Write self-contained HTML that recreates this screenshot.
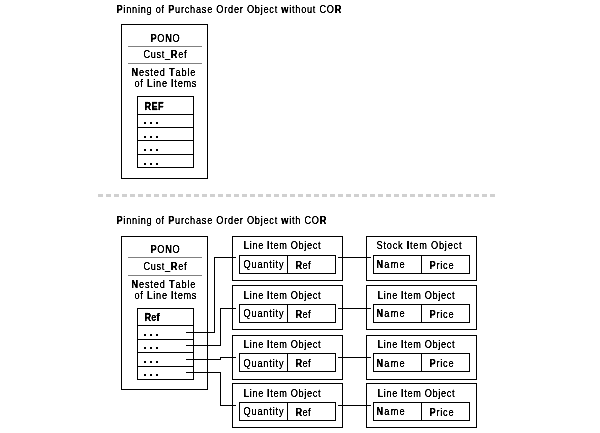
<!DOCTYPE html>
<html><head><meta charset="utf-8"><style>
html,body{margin:0;padding:0;background:#fff;width:600px;height:433px;overflow:hidden}
svg{display:block;will-change:transform}
text{font-family:"Liberation Sans",sans-serif;fill:#000;stroke:#000;stroke-width:0.22px}
</style></head><body>
<svg width="600" height="433" viewBox="0 0 600 433" shape-rendering="crispEdges">
<rect x="98" y="194" width="5" height="3" fill="#d0d0d0"/><rect x="106" y="194" width="5" height="3" fill="#d0d0d0"/><rect x="114" y="194" width="5" height="3" fill="#d0d0d0"/><rect x="122" y="194" width="5" height="3" fill="#d0d0d0"/><rect x="130" y="194" width="5" height="3" fill="#d0d0d0"/><rect x="138" y="194" width="5" height="3" fill="#d0d0d0"/><rect x="146" y="194" width="5" height="3" fill="#d0d0d0"/><rect x="154" y="194" width="5" height="3" fill="#d0d0d0"/><rect x="162" y="194" width="5" height="3" fill="#d0d0d0"/><rect x="170" y="194" width="5" height="3" fill="#d0d0d0"/><rect x="178" y="194" width="5" height="3" fill="#d0d0d0"/><rect x="186" y="194" width="5" height="3" fill="#d0d0d0"/><rect x="194" y="194" width="5" height="3" fill="#d0d0d0"/><rect x="202" y="194" width="5" height="3" fill="#d0d0d0"/><rect x="210" y="194" width="5" height="3" fill="#d0d0d0"/><rect x="218" y="194" width="5" height="3" fill="#d0d0d0"/><rect x="226" y="194" width="5" height="3" fill="#d0d0d0"/><rect x="234" y="194" width="5" height="3" fill="#d0d0d0"/><rect x="242" y="194" width="5" height="3" fill="#d0d0d0"/><rect x="250" y="194" width="5" height="3" fill="#d0d0d0"/><rect x="258" y="194" width="5" height="3" fill="#d0d0d0"/><rect x="266" y="194" width="5" height="3" fill="#d0d0d0"/><rect x="274" y="194" width="5" height="3" fill="#d0d0d0"/><rect x="282" y="194" width="5" height="3" fill="#d0d0d0"/><rect x="290" y="194" width="5" height="3" fill="#d0d0d0"/><rect x="298" y="194" width="5" height="3" fill="#d0d0d0"/><rect x="306" y="194" width="5" height="3" fill="#d0d0d0"/><rect x="314" y="194" width="5" height="3" fill="#d0d0d0"/><rect x="322" y="194" width="5" height="3" fill="#d0d0d0"/><rect x="330" y="194" width="5" height="3" fill="#d0d0d0"/><rect x="338" y="194" width="5" height="3" fill="#d0d0d0"/><rect x="346" y="194" width="5" height="3" fill="#d0d0d0"/><rect x="354" y="194" width="5" height="3" fill="#d0d0d0"/><rect x="362" y="194" width="5" height="3" fill="#d0d0d0"/><rect x="370" y="194" width="5" height="3" fill="#d0d0d0"/><rect x="378" y="194" width="5" height="3" fill="#d0d0d0"/><rect x="386" y="194" width="5" height="3" fill="#d0d0d0"/><rect x="394" y="194" width="5" height="3" fill="#d0d0d0"/><rect x="402" y="194" width="5" height="3" fill="#d0d0d0"/><rect x="410" y="194" width="5" height="3" fill="#d0d0d0"/><rect x="418" y="194" width="5" height="3" fill="#d0d0d0"/><rect x="426" y="194" width="5" height="3" fill="#d0d0d0"/><rect x="434" y="194" width="5" height="3" fill="#d0d0d0"/><rect x="442" y="194" width="5" height="3" fill="#d0d0d0"/><rect x="450" y="194" width="5" height="3" fill="#d0d0d0"/><rect x="458" y="194" width="5" height="3" fill="#d0d0d0"/><rect x="466" y="194" width="5" height="3" fill="#d0d0d0"/><rect x="474" y="194" width="5" height="3" fill="#d0d0d0"/><rect x="482" y="194" width="5" height="3" fill="#d0d0d0"/><rect x="490" y="194" width="5" height="3" fill="#d0d0d0"/><rect x="121" y="24" width="87" height="1" fill="#000"/><rect x="121" y="178" width="87" height="1" fill="#000"/><rect x="121" y="24" width="1" height="155" fill="#000"/><rect x="207" y="24" width="1" height="155" fill="#000"/><rect x="128" y="46" width="74" height="1" fill="#808080"/><rect x="128" y="63" width="74" height="1" fill="#808080"/><rect x="137" y="96" width="57" height="1" fill="#000"/><rect x="137" y="167" width="57" height="1" fill="#000"/><rect x="137" y="96" width="1" height="72" fill="#000"/><rect x="193" y="96" width="1" height="72" fill="#000"/><rect x="137" y="114" width="57" height="1" fill="#000"/><rect x="137" y="127" width="57" height="1" fill="#000"/><rect x="137" y="140" width="57" height="1" fill="#000"/><rect x="137" y="154" width="57" height="1" fill="#000"/><rect x="144" y="122" width="2" height="2" fill="#000"/><rect x="150" y="122" width="2" height="2" fill="#000"/><rect x="156" y="122" width="2" height="2" fill="#000"/><rect x="144" y="136" width="2" height="2" fill="#000"/><rect x="150" y="136" width="2" height="2" fill="#000"/><rect x="156" y="136" width="2" height="2" fill="#000"/><rect x="144" y="149" width="2" height="2" fill="#000"/><rect x="150" y="149" width="2" height="2" fill="#000"/><rect x="156" y="149" width="2" height="2" fill="#000"/><rect x="144" y="163" width="2" height="2" fill="#000"/><rect x="150" y="163" width="2" height="2" fill="#000"/><rect x="156" y="163" width="2" height="2" fill="#000"/><rect x="121" y="236" width="87" height="1" fill="#000"/><rect x="121" y="389" width="87" height="1" fill="#000"/><rect x="121" y="236" width="1" height="154" fill="#000"/><rect x="207" y="236" width="1" height="154" fill="#000"/><rect x="128" y="257" width="74" height="1" fill="#808080"/><rect x="128" y="275" width="74" height="1" fill="#808080"/><rect x="137" y="308" width="57" height="1" fill="#000"/><rect x="137" y="379" width="57" height="1" fill="#000"/><rect x="137" y="308" width="1" height="72" fill="#000"/><rect x="193" y="308" width="1" height="72" fill="#000"/><rect x="137" y="325" width="57" height="1" fill="#000"/><rect x="137" y="339" width="57" height="1" fill="#000"/><rect x="137" y="352" width="57" height="1" fill="#000"/><rect x="137" y="366" width="57" height="1" fill="#000"/><rect x="144" y="334" width="2" height="2" fill="#000"/><rect x="150" y="334" width="2" height="2" fill="#000"/><rect x="156" y="334" width="2" height="2" fill="#000"/><rect x="144" y="347" width="2" height="2" fill="#000"/><rect x="150" y="347" width="2" height="2" fill="#000"/><rect x="156" y="347" width="2" height="2" fill="#000"/><rect x="144" y="361" width="2" height="2" fill="#000"/><rect x="150" y="361" width="2" height="2" fill="#000"/><rect x="156" y="361" width="2" height="2" fill="#000"/><rect x="144" y="374" width="2" height="2" fill="#000"/><rect x="150" y="374" width="2" height="2" fill="#000"/><rect x="156" y="374" width="2" height="2" fill="#000"/><rect x="232" y="236" width="111" height="1" fill="#000"/><rect x="232" y="280" width="111" height="1" fill="#000"/><rect x="232" y="236" width="1" height="45" fill="#000"/><rect x="342" y="236" width="1" height="45" fill="#000"/><rect x="239" y="255" width="97" height="1" fill="#000"/><rect x="239" y="273" width="97" height="1" fill="#000"/><rect x="239" y="255" width="1" height="19" fill="#000"/><rect x="335" y="255" width="1" height="19" fill="#000"/><rect x="287" y="255" width="1" height="19" fill="#000"/><rect x="366" y="236" width="111" height="1" fill="#000"/><rect x="366" y="280" width="111" height="1" fill="#000"/><rect x="366" y="236" width="1" height="45" fill="#000"/><rect x="476" y="236" width="1" height="45" fill="#000"/><rect x="373" y="255" width="97" height="1" fill="#000"/><rect x="373" y="273" width="97" height="1" fill="#000"/><rect x="373" y="255" width="1" height="19" fill="#000"/><rect x="469" y="255" width="1" height="19" fill="#000"/><rect x="421" y="255" width="1" height="19" fill="#000"/><rect x="338" y="257" width="33" height="1" fill="#000"/><rect x="214" y="257" width="22" height="1" fill="#000"/><rect x="232" y="285" width="111" height="1" fill="#000"/><rect x="232" y="329" width="111" height="1" fill="#000"/><rect x="232" y="285" width="1" height="45" fill="#000"/><rect x="342" y="285" width="1" height="45" fill="#000"/><rect x="239" y="304" width="97" height="1" fill="#000"/><rect x="239" y="322" width="97" height="1" fill="#000"/><rect x="239" y="304" width="1" height="19" fill="#000"/><rect x="335" y="304" width="1" height="19" fill="#000"/><rect x="287" y="304" width="1" height="19" fill="#000"/><rect x="366" y="285" width="111" height="1" fill="#000"/><rect x="366" y="329" width="111" height="1" fill="#000"/><rect x="366" y="285" width="1" height="45" fill="#000"/><rect x="476" y="285" width="1" height="45" fill="#000"/><rect x="373" y="304" width="97" height="1" fill="#000"/><rect x="373" y="322" width="97" height="1" fill="#000"/><rect x="373" y="304" width="1" height="19" fill="#000"/><rect x="469" y="304" width="1" height="19" fill="#000"/><rect x="421" y="304" width="1" height="19" fill="#000"/><rect x="338" y="308" width="33" height="1" fill="#000"/><rect x="220" y="308" width="16" height="1" fill="#000"/><rect x="232" y="335" width="111" height="1" fill="#000"/><rect x="232" y="379" width="111" height="1" fill="#000"/><rect x="232" y="335" width="1" height="45" fill="#000"/><rect x="342" y="335" width="1" height="45" fill="#000"/><rect x="239" y="353" width="97" height="1" fill="#000"/><rect x="239" y="371" width="97" height="1" fill="#000"/><rect x="239" y="353" width="1" height="19" fill="#000"/><rect x="335" y="353" width="1" height="19" fill="#000"/><rect x="287" y="353" width="1" height="19" fill="#000"/><rect x="366" y="335" width="111" height="1" fill="#000"/><rect x="366" y="379" width="111" height="1" fill="#000"/><rect x="366" y="335" width="1" height="45" fill="#000"/><rect x="476" y="335" width="1" height="45" fill="#000"/><rect x="373" y="353" width="97" height="1" fill="#000"/><rect x="373" y="371" width="97" height="1" fill="#000"/><rect x="373" y="353" width="1" height="19" fill="#000"/><rect x="469" y="353" width="1" height="19" fill="#000"/><rect x="421" y="353" width="1" height="19" fill="#000"/><rect x="338" y="357" width="33" height="1" fill="#000"/><rect x="220" y="357" width="16" height="1" fill="#000"/><rect x="232" y="383" width="111" height="1" fill="#000"/><rect x="232" y="427" width="111" height="1" fill="#000"/><rect x="232" y="383" width="1" height="45" fill="#000"/><rect x="342" y="383" width="1" height="45" fill="#000"/><rect x="239" y="402" width="97" height="1" fill="#000"/><rect x="239" y="420" width="97" height="1" fill="#000"/><rect x="239" y="402" width="1" height="19" fill="#000"/><rect x="335" y="402" width="1" height="19" fill="#000"/><rect x="287" y="402" width="1" height="19" fill="#000"/><rect x="366" y="383" width="111" height="1" fill="#000"/><rect x="366" y="427" width="111" height="1" fill="#000"/><rect x="366" y="383" width="1" height="45" fill="#000"/><rect x="476" y="383" width="1" height="45" fill="#000"/><rect x="373" y="402" width="97" height="1" fill="#000"/><rect x="373" y="420" width="97" height="1" fill="#000"/><rect x="373" y="402" width="1" height="19" fill="#000"/><rect x="469" y="402" width="1" height="19" fill="#000"/><rect x="421" y="402" width="1" height="19" fill="#000"/><rect x="338" y="405" width="33" height="1" fill="#000"/><rect x="220" y="405" width="16" height="1" fill="#000"/><rect x="186" y="332" width="29" height="1" fill="#000"/><rect x="214" y="257" width="1" height="76" fill="#000"/><rect x="186" y="345" width="35" height="1" fill="#000"/><rect x="220" y="308" width="1" height="38" fill="#000"/><rect x="186" y="359" width="35" height="1" fill="#000"/><rect x="220" y="357" width="1" height="3" fill="#000"/><rect x="186" y="372" width="35" height="1" fill="#000"/><rect x="220" y="372" width="1" height="34" fill="#000"/>
<defs><filter id="th" filterUnits="userSpaceOnUse" x="0" y="0" width="600" height="433"><feComponentTransfer><feFuncA type="linear" slope="2" intercept="-0.4"/></feComponentTransfer></filter></defs>
<g filter="url(#th)"><text transform="translate(116.50,13) scale(0.8,1)" font-size="11.5" font-weight="normal" textLength="281.15" lengthAdjust="spacing"><tspan font-weight="bold">P</tspan>inning of <tspan font-weight="bold">P</tspan>urchase Order Object <tspan font-weight="bold">w</tspan>ithout CO<tspan font-weight="bold">R</tspan></text><text transform="translate(150.50,42) scale(0.8,1)" font-size="11.5" font-weight="normal" textLength="36.50" lengthAdjust="spacing"><tspan font-weight="bold">P</tspan>O<tspan font-weight="bold">N</tspan>O</text><text transform="translate(143.50,58) scale(0.8,1)" font-size="11.5" font-weight="normal" textLength="53.75" lengthAdjust="spacing">Cust_<tspan font-weight="bold">R</tspan>ef</text><text transform="translate(131.50,76) scale(0.8,1)" font-size="11.5" font-weight="normal" textLength="79.98" lengthAdjust="spacing"><tspan font-weight="bold">N</tspan>ested <tspan font-weight="bold">T</tspan>able</text><text transform="translate(134.50,87) scale(0.8,1)" font-size="11.5" font-weight="normal" textLength="77.47" lengthAdjust="spacing">of <tspan font-weight="bold">L</tspan>ine <tspan font-weight="bold">I</tspan>tems</text><text transform="translate(144.50,110) scale(0.8,1)" font-size="11.5" font-weight="bold" style="stroke-width:0.25px" textLength="23.75" lengthAdjust="spacing">REF</text><text transform="translate(116.50,224) scale(0.8,1)" font-size="11.5" font-weight="normal" textLength="262.40" lengthAdjust="spacing"><tspan font-weight="bold">P</tspan>inning of <tspan font-weight="bold">P</tspan>urchase Order Object <tspan font-weight="bold">w</tspan>ith CO<tspan font-weight="bold">R</tspan></text><text transform="translate(150.50,253) scale(0.8,1)" font-size="11.5" font-weight="normal" textLength="36.50" lengthAdjust="spacing"><tspan font-weight="bold">P</tspan>O<tspan font-weight="bold">N</tspan>O</text><text transform="translate(143.50,270) scale(0.8,1)" font-size="11.5" font-weight="normal" textLength="53.75" lengthAdjust="spacing">Cust_<tspan font-weight="bold">R</tspan>ef</text><text transform="translate(131.50,288) scale(0.8,1)" font-size="11.5" font-weight="normal" textLength="79.98" lengthAdjust="spacing"><tspan font-weight="bold">N</tspan>ested <tspan font-weight="bold">T</tspan>able</text><text transform="translate(134.50,299) scale(0.8,1)" font-size="11.5" font-weight="normal" textLength="77.47" lengthAdjust="spacing">of <tspan font-weight="bold">L</tspan>ine <tspan font-weight="bold">I</tspan>tems</text><text transform="translate(144.50,321) scale(0.8,1)" font-size="11.5" font-weight="bold" style="stroke-width:0.25px" textLength="18.75" lengthAdjust="spacing">Ref</text><text transform="translate(243.50,249) scale(0.8,1)" font-size="11.5" font-weight="normal" textLength="96.25" lengthAdjust="spacing"><tspan font-weight="bold">L</tspan>ine <tspan font-weight="bold">I</tspan>tem Object</text><text transform="translate(376.50,249) scale(0.8,1)" font-size="11.5" font-weight="normal" textLength="106.25" lengthAdjust="spacing">Stock <tspan font-weight="bold">I</tspan>tem Object</text><text transform="translate(243.50,268) scale(0.8,1)" font-size="11.5" font-weight="normal" textLength="50.00" lengthAdjust="spacing">Quantity</text><text transform="translate(295.50,269) scale(0.8,1)" font-size="11.5" font-weight="normal" textLength="18.75" lengthAdjust="spacing"><tspan font-weight="bold">R</tspan>ef</text><text transform="translate(376.50,268) scale(0.8,1)" font-size="11.5" font-weight="normal" textLength="35.25" lengthAdjust="spacing"><tspan font-weight="bold">N</tspan>ame</text><text transform="translate(429.50,269) scale(0.8,1)" font-size="11.5" font-weight="normal" textLength="30.16" lengthAdjust="spacing"><tspan font-weight="bold">P</tspan>rice</text><text transform="translate(243.50,299) scale(0.8,1)" font-size="11.5" font-weight="normal" textLength="96.25" lengthAdjust="spacing"><tspan font-weight="bold">L</tspan>ine <tspan font-weight="bold">I</tspan>tem Object</text><text transform="translate(377.50,299) scale(0.8,1)" font-size="11.5" font-weight="normal" textLength="96.25" lengthAdjust="spacing"><tspan font-weight="bold">L</tspan>ine <tspan font-weight="bold">I</tspan>tem Object</text><text transform="translate(243.50,317) scale(0.8,1)" font-size="11.5" font-weight="normal" textLength="50.00" lengthAdjust="spacing">Quantity</text><text transform="translate(295.50,318) scale(0.8,1)" font-size="11.5" font-weight="normal" textLength="18.75" lengthAdjust="spacing"><tspan font-weight="bold">R</tspan>ef</text><text transform="translate(376.50,317) scale(0.8,1)" font-size="11.5" font-weight="normal" textLength="35.25" lengthAdjust="spacing"><tspan font-weight="bold">N</tspan>ame</text><text transform="translate(429.50,318) scale(0.8,1)" font-size="11.5" font-weight="normal" textLength="30.16" lengthAdjust="spacing"><tspan font-weight="bold">P</tspan>rice</text><text transform="translate(243.50,348) scale(0.8,1)" font-size="11.5" font-weight="normal" textLength="96.25" lengthAdjust="spacing"><tspan font-weight="bold">L</tspan>ine <tspan font-weight="bold">I</tspan>tem Object</text><text transform="translate(377.50,348) scale(0.8,1)" font-size="11.5" font-weight="normal" textLength="96.25" lengthAdjust="spacing"><tspan font-weight="bold">L</tspan>ine <tspan font-weight="bold">I</tspan>tem Object</text><text transform="translate(243.50,367) scale(0.8,1)" font-size="11.5" font-weight="normal" textLength="50.00" lengthAdjust="spacing">Quantity</text><text transform="translate(295.50,367) scale(0.8,1)" font-size="11.5" font-weight="normal" textLength="18.75" lengthAdjust="spacing"><tspan font-weight="bold">R</tspan>ef</text><text transform="translate(376.50,367) scale(0.8,1)" font-size="11.5" font-weight="normal" textLength="35.25" lengthAdjust="spacing"><tspan font-weight="bold">N</tspan>ame</text><text transform="translate(429.50,367) scale(0.8,1)" font-size="11.5" font-weight="normal" textLength="30.16" lengthAdjust="spacing"><tspan font-weight="bold">P</tspan>rice</text><text transform="translate(243.50,397) scale(0.8,1)" font-size="11.5" font-weight="normal" textLength="96.25" lengthAdjust="spacing"><tspan font-weight="bold">L</tspan>ine <tspan font-weight="bold">I</tspan>tem Object</text><text transform="translate(377.50,397) scale(0.8,1)" font-size="11.5" font-weight="normal" textLength="96.25" lengthAdjust="spacing"><tspan font-weight="bold">L</tspan>ine <tspan font-weight="bold">I</tspan>tem Object</text><text transform="translate(243.50,415) scale(0.8,1)" font-size="11.5" font-weight="normal" textLength="50.00" lengthAdjust="spacing">Quantity</text><text transform="translate(295.50,416) scale(0.8,1)" font-size="11.5" font-weight="normal" textLength="18.75" lengthAdjust="spacing"><tspan font-weight="bold">R</tspan>ef</text><text transform="translate(376.50,415) scale(0.8,1)" font-size="11.5" font-weight="normal" textLength="35.25" lengthAdjust="spacing"><tspan font-weight="bold">N</tspan>ame</text><text transform="translate(429.50,416) scale(0.8,1)" font-size="11.5" font-weight="normal" textLength="30.16" lengthAdjust="spacing"><tspan font-weight="bold">P</tspan>rice</text></g>
</svg>
</body></html>
